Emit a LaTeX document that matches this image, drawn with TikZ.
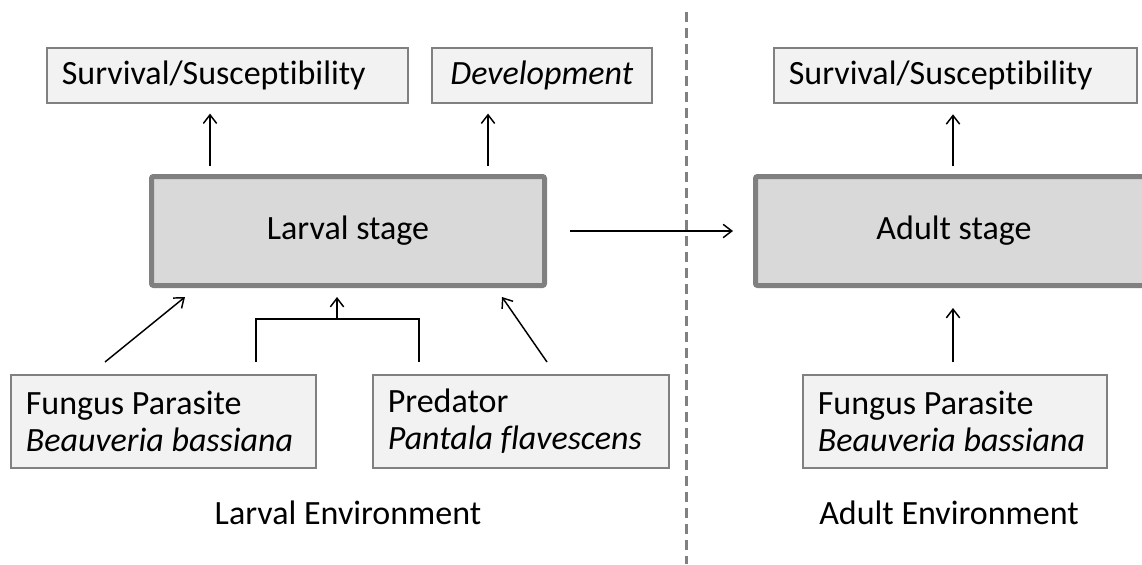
\documentclass[tikz,border=0pt]{standalone}
\usepackage{fontspec}
\setmainfont{Carlito}[Ligatures=NoCommon]
\usetikzlibrary{arrows.meta}
\definecolor{bordergray}{HTML}{808080}
\definecolor{lightfill}{HTML}{F2F2F2}
\definecolor{stagefill}{HTML}{D9D9D9}
\begin{document}
\begin{tikzpicture}[x=0.75pt,y=-0.75pt,
  font=\fontsize{25.5}{27.75}\selectfont,
  lbox/.style={draw=bordergray, fill=lightfill, line width=1.2pt, anchor=north west,
    inner xsep=11.25pt, inner ysep=0pt, align=left,
    execute at begin node={\spaceskip=0pt\xspaceskip=0pt}},
  stagebox/.style={draw=bordergray, fill=stagefill, line width=3.75pt, rounded corners=1.5pt,
    anchor=north west, minimum width=#1, minimum height=81.75pt, inner sep=0pt},
  arr/.style={-{Straight Barb[length=6.5pt,width=10pt]}, line width=1.1pt},
  conn/.style={line width=1.1pt},
  divider/.style={draw=bordergray, line width=2.25pt, dash pattern=on 7.5pt off 4.5pt}
]
\useasboundingbox (0,0) rectangle (1142,564);

% top outcome boxes
\node[lbox, minimum width=270.75pt, minimum height=41.25pt, text width=248.25pt] (survL) at (46,47) {Survival/Susceptibility};
\node[lbox, minimum width=165pt, minimum height=41.25pt] (dev) at (431,47) {\itshape Development};
\node[lbox, minimum width=272.25pt, minimum height=41.25pt, text width=249.75pt] (survR) at (773,47) {Survival/Susceptibility};

% stage boxes
\node[stagebox=294.75pt] (larval) at (149,174) {Larval stage};
\node[stagebox=297.75pt] (adult) at (753,174) {Adult stage};

% environment boxes
\node[lbox, minimum width=228.75pt, minimum height=69.75pt, text width=206.25pt] (fungL) at (10,374) {Fungus Parasite\\\textit{Beauveria bassiana}};
\node[lbox, minimum width=222pt, minimum height=69.75pt, text width=199.5pt] (pred) at (372,374) {Predator\\\textit{Pantala flavescens}};
\node[lbox, minimum width=228pt, minimum height=69.75pt, text width=205.5pt] (fungR) at (802,374) {Fungus Parasite\\\textit{Beauveria bassiana}};

% environment labels
\node (larvEnv) at (348,513) {Larval Environment};
\node (adultEnv) at (949,513) {Adult Environment};

% divider
\coordinate (divTop) at (686,12);
\coordinate (divBot) at (686,564);
\draw[divider] (divTop) -- (divBot);

% x positions of vertical arrows
\coordinate (xa) at (210,0);
\coordinate (xb) at (488,0);
\coordinate (xc) at (953,0);

% upward arrows to outcomes
\draw[arr, shorten <=6pt, shorten >=7.5pt] (larval.north -| xa) -- (survL.south -| xa);
\draw[arr, shorten <=6pt, shorten >=7.5pt] (larval.north -| xb) -- (dev.south -| xb);
\draw[arr, shorten <=6pt, shorten >=8pt] (adult.north -| xc) -- (survR.south -| xc);

% larval -> adult
\draw[arr, shorten <=17.25pt, shorten >=15pt] (larval.east) -- (adult.west);

% environment influences on larval stage
\coordinate (dlS) at (105,362);
\coordinate (dlE) at (185,297);
\draw[arr] (dlS) -- (dlE);

\coordinate (brL) at (256,362);
\coordinate (brR) at (419,362);
\coordinate (brM) at (337,319);
\coordinate (brTip) at (337,297);
\draw[conn] (brL) |- (brM) -| (brR);
\draw[arr] (brM) -- (brTip);

\coordinate (drS) at (547,362);
\coordinate (drE) at (502,297);
\draw[arr] (drS) -- (drE);

% adult environment influence
\draw[arr, shorten <=9pt, shorten >=15pt] (fungR.north -| xc) -- (adult.south -| xc);
\end{tikzpicture}
\end{document}
